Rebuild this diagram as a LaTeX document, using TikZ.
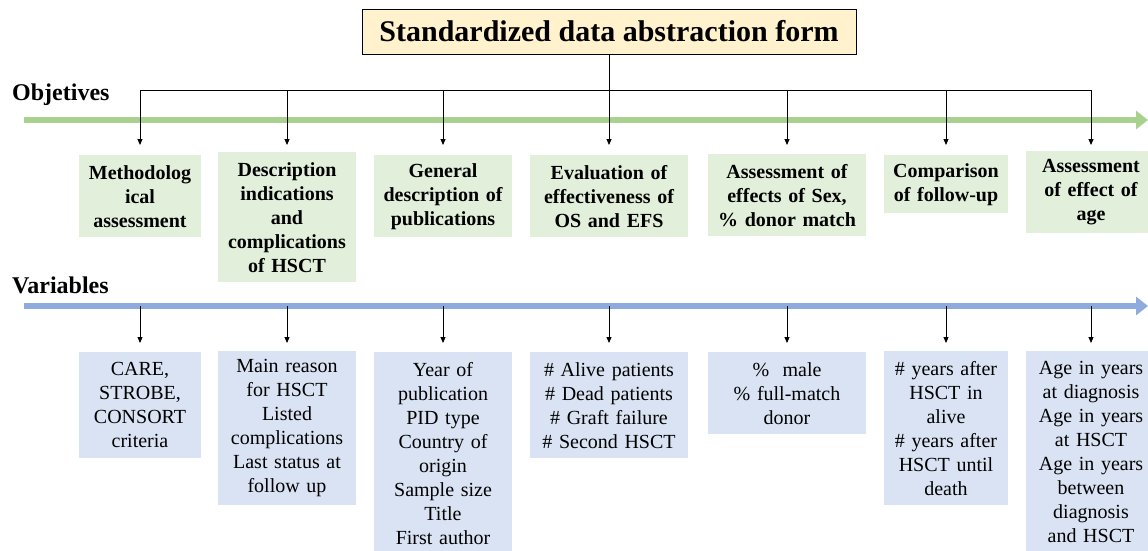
\documentclass[tikz,border=0pt]{standalone}
\usepackage{fontspec}
\setmainfont{Liberation Serif}
\usetikzlibrary{arrows.meta}
\definecolor{objline}{HTML}{A9D18E}
\definecolor{objfill}{HTML}{E2EFDA}
\definecolor{varline}{HTML}{8FAADC}
\definecolor{varfill}{HTML}{DAE3F3}
\definecolor{titlefill}{HTML}{FFF2CC}

\begin{document}
\begin{tikzpicture}[x=1pt,y=-1pt,
  objbox/.style={fill=objfill,anchor=north,align=center,inner sep=0pt,
    font=\bfseries\fontsize{20}{24}\selectfont,minimum height={24pt*#1+10pt}},
  varbox/.style={fill=varfill,anchor=north,align=center,inner sep=0pt,
    font=\fontsize{20}{24}\selectfont,minimum height={24pt*#1+10pt}},
  rowlabel/.style={anchor=west,inner sep=0pt,font=\bfseries\fontsize{24}{28}\selectfont},
  drop/.style={-{Triangle[length=6pt,width=5pt]},line width=0.9pt},
  axis/.style={line width=6pt,-{Triangle[length=12pt,width=18pt]}}]

\useasboundingbox (0,0) rectangle (1148,550);

%-------------------------------------------------------------------
% Title
\node[draw,fill=titlefill,line width=0.9pt,minimum width=494pt,minimum height=45pt,
  font=\bfseries\fontsize{30}{36}\selectfont] (title) at (609,31.5)
  {Standardized data abstraction form};

%-------------------------------------------------------------------
% Objectives row
\node[rowlabel] (objlabel) at (12,95) {Objetives};
\coordinate (objstart) at (24,120);
\coordinate (objend) at (1148,120);
\draw[axis,objline] (objstart) -- (objend);

\node[objbox=3,text width=122pt] (obj1) at (140,155) {Methodolog\\ical\\assessment};
\node[objbox=5,text width=138pt] (obj2) at (287,152) {Description\\indications\\and\\complications\\of HSCT};
\node[objbox=3,text width=138pt] (obj3) at (443,155) {General\\description of\\publications};
\node[objbox=3,text width=158pt] (obj4) at (609,155) {Evaluation of\\effectiveness of\\OS and EFS};
\node[objbox=3,text width=158pt] (obj5) at (787,154) {Assessment of\\effects of Sex,\\\% donor match};
\node[objbox=2,text width=124pt] (obj6) at (946,155) {Comparison\\of follow-up};
\node[objbox=3,text width=130pt] (obj7) at (1091,151) {Assessment\\of effect of\\age};

% Bracket from the title
\coordinate (bracket) at (0,90);
\draw[line width=0.9pt] (obj1.north |- bracket) -- (obj7.north |- bracket);
\draw[drop,shorten >=10pt] (title.south) -- (obj4.north |- 0,155);
\foreach \i in {1,2,3,5,6,7}{
    \draw[drop,shorten >=10pt] (obj\i.north |- bracket) -- (obj\i.north |- 0,155);
}

%-------------------------------------------------------------------
% Variables row
\node[rowlabel] (varlabel) at (12,285) {Variables};
\coordinate (varstart) at (24,306);
\coordinate (varend) at (1148,306);
\draw[axis,varline] (varstart) -- (varend);

\node[varbox=4,text width=122pt] (var1) at (140,352) {CARE,\\STROBE,\\CONSORT\\criteria};
\node[varbox=6,text width=138pt] (var2) at (287,351) {Main reason\\for HSCT\\Listed\\complications\\Last status at\\follow up};
\node[varbox=8,text width=138pt] (var3) at (443,352) {Year of\\publication\\PID type\\Country of\\origin\\Sample size\\Title\\First author};
\node[varbox=4,text width=158pt] (var4) at (609,352) {\# Alive patients\\\# Dead patients\\\# Graft failure\\\# Second HSCT};
\node[varbox=3,text width=158pt] (var5) at (787,352) {\%\ \ male\\\% full-match\\donor};
\node[varbox=6,text width=124pt] (var6) at (946,351) {\# years after\\HSCT in\\alive\\\# years after\\HSCT until\\death};
\node[varbox=8,text width=130pt] (var7) at (1091,351) {Age in years\\at diagnosis\\Age in years\\at HSCT\\Age in years\\between\\diagnosis\\and HSCT};

\foreach \i in {1,...,7}{
    \draw[drop,shorten >=9pt] (var\i.north |- varstart) -- (var\i.north |- 0,352);
}

\end{tikzpicture}
\end{document}
